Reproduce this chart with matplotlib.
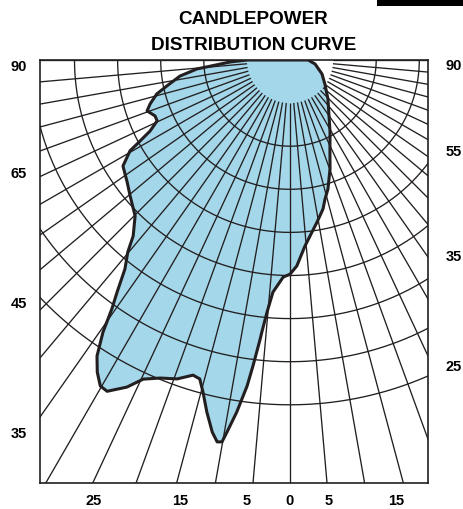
import numpy as np
import matplotlib
matplotlib.use('Agg')
from matplotlib import pyplot as plt
from matplotlib.patches import Polygon, Rectangle

# Curva de distribucion: angulo desde el nadir (grados, negativo = izquierda)
# e intensidad en unidades de anillo de la reticula
angulos = [-90.0, -88.1, -84.5, -81.7, -78.1, -75.7, -72.6, -70.4, -67.5, -65.4,
           -63.1, -61.6, -60.4, -57.6, -53.2, -49.6, -44.8, -41.7, -40.2, -38.3,
           -36.7, -35.6, -34.5, -33.1, -31.7, -30.2, -28.9, -26.5, -24.7, -22.2,
           -19.5, -17.1, -15.8, -14.7, -13.3, -11.8, -10.8, -10.1, -9.6, -8.6,
           -7.5, -6.9, -6.1, -5.9, -5.2, -4.2, -1.8, 0.0, 1.9, 4.6,
           9.5, 12.5, 14.1, 16.4, 20.2, 24.2, 29.1, 44.3, 55.6, 66.4,
           80.9, 90.0]
intensidad = [1.00, 1.39, 2.17, 2.58, 2.92, 3.19, 3.40, 3.52, 3.39, 3.39,
              3.64, 3.96, 4.27, 4.59, 4.72, 4.87, 5.10, 5.47, 5.83, 6.18,
              6.71, 7.10, 7.66, 8.20, 8.51, 8.75, 8.78, 8.48, 8.15, 7.97,
              7.85, 7.65, 7.69, 7.96, 8.39, 8.82, 9.02, 9.00, 8.75, 8.26,
              7.63, 7.15, 6.51, 6.34, 5.87, 5.40, 5.04, 4.97, 4.78, 4.33,
              3.81, 3.54, 3.33, 3.12, 2.69, 2.26, 1.91, 1.26, 0.98, 0.81,
              0.59, 0.42]

etiquetas_izq = ['90', '65', '45', '35']
etiquetas_der = ['90', '55', '35', '25']
etiquetas_abajo = ['25', '15', '5', '0', '5', '15']

# Posiciones de las etiquetas en pixeles (x, y)
pos_izq = [(18.5, 67), (18.5, 174), (18.5, 304), (18.5, 434)]
pos_der = [(446, 66), (446, 151.5), (446, 257), (446, 367)]
pos_abajo = [(94, 501), (180, 501), (247, 501), (290, 501), (329, 501), (396, 501)]

W, H = 463, 510
tinta = '#231f20'
azul = '#a3d7e9'

fig = plt.figure(figsize=(W / 100, H / 100), dpi=100)
ax = fig.add_axes([39.5 / W, 1 - 483.5 / H, (428.3 - 39.5) / W, (483.5 - 61) / H])
px = 43.1  # pixeles por anillo
ax.set_xlim(-250.5 / px, 138.3 / px)
ax.set_ylim(-422.5 / px, 0)

# Curva rellena
t = np.radians(angulos)
r = np.array(intensidad)
xs = r * np.sin(t)
ys = -r * np.cos(t)
puntos = np.column_stack([np.append(xs, 0), np.append(ys, 0)])
ax.add_patch(Polygon(puntos, closed=True, facecolor=azul, edgecolor='none', zorder=1))

# Reticula: radios cada 5 grados y anillos
for a in range(-90, 91, 5):
    ta = np.radians(a)
    ax.plot([np.sin(ta), 20 * np.sin(ta)], [-np.cos(ta), -20 * np.cos(ta)],
            color=tinta, lw=0.95, zorder=2, solid_capstyle='butt')
tt = np.radians(np.linspace(-90, 90, 400))
for k in range(2, 9):
    ax.plot(k * np.sin(tt), -k * np.cos(tt), color=tinta, lw=0.95, zorder=2)

# Contorno
ax.add_patch(Polygon(puntos, closed=True, facecolor='none', edgecolor=tinta,
                     lw=2.2, joinstyle='round', zorder=3))

ax.set_xticks([])
ax.set_yticks([])
for s in ax.spines.values():
    s.set_linewidth(1.2)
    s.set_color(tinta)
    s.set_zorder(4)

fuente = 'Liberation Sans'
fig.text(253 / W, 1 - 20 / H, 'CANDLEPOWER', ha='center', va='center',
         fontsize=13.6, fontweight='bold', family=fuente, color='black')
fig.text(254 / W, 1 - 45 / H, 'DISTRIBUTION CURVE', ha='center', va='center',
         fontsize=13.6, fontweight='bold', family=fuente, color='black')

for txt, (x, y) in zip(etiquetas_izq, pos_izq):
    fig.text(x / W, 1 - y / H, txt, ha='center', va='center', fontsize=10.5,
             fontweight='bold', family=fuente, color='black')
for txt, (x, y) in zip(etiquetas_der, pos_der):
    fig.text(x / W, 1 - y / H, txt, ha='left', va='center', fontsize=10.5,
             fontweight='bold', family=fuente, color='black')
for txt, (x, y) in zip(etiquetas_abajo, pos_abajo):
    fig.text(x / W, 1 - y / H, txt, ha='center', va='center', fontsize=10.5,
             fontweight='bold', family=fuente, color='black')

# Barra negra en la esquina superior derecha
fig.patches.append(Rectangle((377 / W, 1 - 7 / H), (W - 377) / W, 7 / H,
                             transform=fig.transFigure, facecolor='black',
                             edgecolor='none'))

fig.savefig('out.png', dpi=100)
